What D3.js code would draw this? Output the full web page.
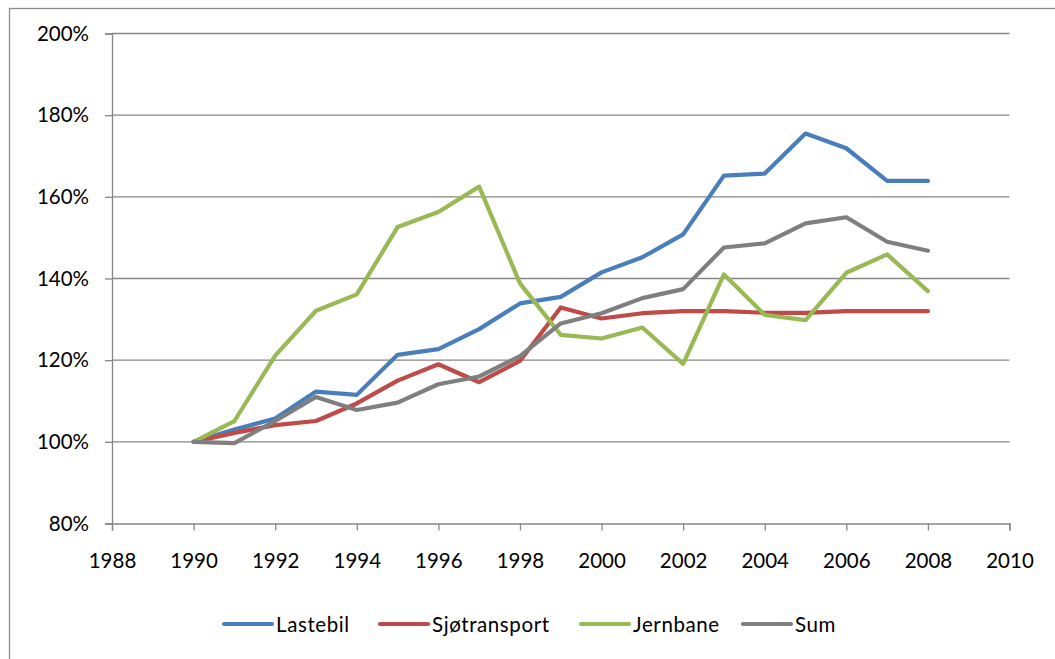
<!DOCTYPE html>
<html>
<head>
<meta charset="utf-8">
<script src="https://cdn.jsdelivr.net/npm/d3@7"></script>
<style>
  body { margin: 0; background: #fff; }
  text { font-family: Lato, "Open Sans", sans-serif; fill: #000; }
</style>
</head>
<body>
<svg width="1055" height="659"></svg>
<script>
var years = d3.range(1990, 2009);
var seriesNames = ["Lastebil", "Sjøtransport", "Jernbane", "Sum"];
var lastebil = [100, 103, 105.7, 112.3, 111.5, 121.3, 122.7, 127.6, 133.9, 135.5, 141.5, 145.2, 150.8, 165.2, 165.7, 175.5, 171.9, 163.9, 163.9];
var sjotransport = [100, 102.2, 104.1, 105.1, 109.4, 115, 119, 114.6, 119.8, 132.9, 130.2, 131.5, 132, 132, 131.6, 131.6, 132, 132, 132];
var jernbane = [100, 105.1, 121.1, 132.1, 136.1, 152.6, 156.3, 162.5, 138.8, 126.2, 125.3, 128, 119.1, 141, 131.1, 129.8, 141.4, 145.9, 136.9];
var sum = [100, 99.7, 105.1, 111, 107.8, 109.6, 114.1, 116, 121, 129, 131.5, 135.2, 137.4, 147.6, 148.6, 153.5, 155, 149, 146.8];
var xTicks = d3.range(1988, 2011, 2);
var yTicks = [80, 100, 120, 140, 160, 180, 200];

var colorScale = d3.scaleOrdinal()
  .domain(seriesNames)
  .range(["#4A7EBB", "#BE4B48", "#98B954", "#7F7F7F"]);

var svg = d3.select("svg");

// outer chart border
svg.append("rect")
  .attr("x", 9.5).attr("y", 8.5)
  .attr("width", 1100).attr("height", 700)
  .attr("fill", "none")
  .attr("stroke", "#8c8c8c")
  .attr("stroke-width", 1.3);

var x = d3.scaleLinear().domain([1988, 2010]).range([112, 1009.5]);
var y = d3.scaleLinear().domain([80, 200]).range([523.5, 33.5]);

// gridlines
svg.append("g")
  .selectAll("line")
  .data(yTicks.filter(function(d) { return d > 80; }))
  .enter().append("line")
  .attr("x1", x(1988)).attr("x2", x(2010))
  .attr("y1", function(d) { return y(d); })
  .attr("y2", function(d) { return y(d); })
  .attr("stroke", "#868686")
  .attr("stroke-width", 1.3);

var yAxis = svg.append("g")
  .attr("transform", "translate(" + x(1988) + ",0)")
  .call(d3.axisLeft(y).tickValues(yTicks).tickSize(7).tickPadding(16)
    .tickFormat(function(d) { return d + "%"; }));

var xAxis = svg.append("g")
  .attr("transform", "translate(0," + y(80) + ")")
  .call(d3.axisBottom(x).tickValues(xTicks).tickSize(7).tickPadding(23)
    .tickFormat(d3.format("d")));

[xAxis, yAxis].forEach(function(a) {
  a.select(".domain").attr("stroke", "#868686").attr("stroke-width", 1.3);
  a.selectAll(".tick line").attr("stroke", "#868686").attr("stroke-width", 1.3);
  a.selectAll(".tick text").style("font-size", "20.5px").attr("fill", "#000");
});

var allSeries = [lastebil, sjotransport, jernbane, sum];

var line = d3.line()
  .x(function(d, i) { return x(years[i]); })
  .y(function(d) { return y(d); });

svg.append("g")
  .selectAll("path")
  .data(allSeries)
  .enter().append("path")
  .attr("d", line)
  .attr("fill", "none")
  .attr("stroke", function(d, i) { return colorScale(seriesNames[i]); })
  .attr("stroke-width", 4.2)
  .attr("stroke-linejoin", "round")
  .attr("stroke-linecap", "round");

// legend
var legendX = [224, 380, 581, 743];
var legend = svg.append("g")
  .selectAll("g")
  .data(seriesNames)
  .enter().append("g")
  .attr("transform", function(d, i) { return "translate(" + legendX[i] + ",624)"; });

legend.append("line")
  .attr("x1", 0).attr("x2", 48)
  .attr("stroke", function(d) { return colorScale(d); })
  .attr("stroke-width", 4.2)
  .attr("stroke-linecap", "round");

legend.append("text")
  .attr("x", 52)
  .attr("y", 8)
  .style("font-size", "20.5px")
  .style("letter-spacing", "0.6px")
  .text(function(d) { return d; });
</script>
</body>
</html>
